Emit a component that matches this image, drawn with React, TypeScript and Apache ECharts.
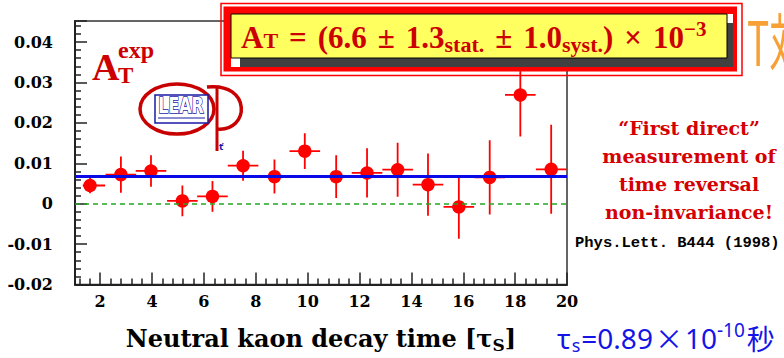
import React, { useEffect, useRef } from "react";
import * as echarts from "echarts";

// ---- data ----
const decayTime = [1.61, 2.8, 3.96, 5.17, 6.33, 7.51, 8.72, 9.89, 11.1, 12.29, 13.47, 14.64, 15.83, 17.02, 18.2, 19.39];
const asymmetry = [0.0045, 0.0072, 0.0081, 0.0007, 0.0018, 0.0094, 0.0067, 0.013, 0.0067, 0.0076, 0.0084, 0.0047, -0.0008, 0.0065, 0.0269, 0.0085];
const asymmetryError = [0.0019, 0.0045, 0.0039, 0.0038, 0.0038, 0.0037, 0.0042, 0.0044, 0.0053, 0.0061, 0.0067, 0.0077, 0.0079, 0.0092, 0.0103, 0.011];
const timeErrorLow = [0.28, 0.59, 0.59, 0.59, 0.59, 0.59, 0.59, 0.59, 0.59, 0.59, 0.59, 0.59, 0.59, 0.59, 0.59, 0.59];
const timeErrorHigh = [0.58, 0.59, 0.59, 0.59, 0.59, 0.59, 0.59, 0.59, 0.59, 0.59, 0.59, 0.59, 0.59, 0.59, 0.59, 0.59];
const fittedAsymmetry = 0.0067;
const zeroLevel = 0;
const xRange = [1.03, 20];
const yRange = [-0.02, 0.0452];

const SERIF = "'DejaVu Serif', serif";
const TIMES = "'Liberation Serif', serif";
const DARKRED = "#cc0000";
const RED = "#ff0000";

export default function App() {
  const ref = useRef<HTMLDivElement>(null);

  useEffect(() => {
    document.body.style.margin = "0";
    if (!ref.current) return;
    const chart = echarts.init(ref.current, undefined, { renderer: "svg" });

    const points = decayTime.map((t, i) => [t, asymmetry[i], asymmetryError[i], timeErrorLow[i], timeErrorHigh[i]]);

    const axisColor = "#222";

    const option: any = {
      animation: false,
      backgroundColor: "#ffffff",
      grid: {
        left: 75,
        right: 217,
        top: 21,
        bottom: 70,
        show: true,
        borderColor: "#333",
        borderWidth: 1.5,
        backgroundColor: "transparent",
      },
      xAxis: {
        type: "value",
        min: xRange[0],
        max: xRange[1],
        splitNumber: 10,
        minInterval: 2,
        maxInterval: 2,
        axisLine: { show: true, onZero: false, lineStyle: { color: axisColor, width: 2 } },
        axisTick: { show: true, inside: true, length: 12, lineStyle: { color: axisColor, width: 1.5 } },
        minorTick: { show: true, splitNumber: 5, length: 6, lineStyle: { color: axisColor, width: 1.5 } },
        splitLine: { show: false },
        axisLabel: {
          showMinLabel: false,
          margin: 9,
          color: "#000",
          fontFamily: SERIF,
          fontWeight: "bold",
          fontSize: 16,
        },
        name: "Neutral kaon decay time [τ{sub|S}]",
        nameLocation: "middle",
        nameGap: 40,
        nameTextStyle: {
          color: "#000",
          fontFamily: SERIF,
          fontWeight: "bold",
          fontSize: 24,
          lineHeight: 28,
          rich: {
            sub: { fontFamily: SERIF, fontWeight: "bold", fontSize: 17, color: "#000", padding: [12, 0, 0, 0], lineHeight: 28 },
          },
        },
      },
      yAxis: {
        type: "value",
        min: yRange[0],
        max: yRange[1],
        interval: 0.01,
        axisLine: { show: true, onZero: false, lineStyle: { color: axisColor, width: 2 } },
        axisTick: { show: true, inside: true, length: 12, lineStyle: { color: axisColor, width: 1.5 } },
        minorTick: { show: true, splitNumber: 5, length: 6, lineStyle: { color: axisColor, width: 1.5 } },
        splitLine: { show: false },
        axisLabel: {
          showMaxLabel: false,
          margin: 22,
          color: "#000",
          fontFamily: SERIF,
          fontWeight: "bold",
          fontSize: 16,
        },
      },
      series: [
        {
          type: "custom",
          z: 3,
          clip: true,
          data: points,
          encode: { x: 0, y: 1 },
          renderItem: (params: any, api: any) => {
            const x = api.value(0);
            const y = api.value(1);
            const e = api.value(2);
            const xl = api.value(3);
            const xh = api.value(4);
            const c = api.coord([x, y]);
            const top = api.coord([x, y + e]);
            const bot = api.coord([x, y - e]);
            const l = api.coord([x - xl, y]);
            const r = api.coord([x + xh, y]);
            const st = { stroke: RED, lineWidth: 1.8 };
            return {
              type: "group",
              children: [
                { type: "line", shape: { x1: c[0], y1: top[1], x2: c[0], y2: bot[1] }, style: st },
                { type: "line", shape: { x1: l[0], y1: c[1], x2: r[0], y2: c[1] }, style: st },
                { type: "circle", shape: { cx: c[0], cy: c[1], r: 6.7 }, style: { fill: RED } },
              ],
            };
          },
        },
        {
          type: "line",
          data: [],
          z: 4,
          markLine: {
            silent: true,
            precision: 6,
            symbol: ["none", "none"],
            label: { show: false },
            data: [
              { yAxis: zeroLevel, lineStyle: { color: "#22a822", type: [5, 4], width: 1.5 } },
              { yAxis: fittedAsymmetry, lineStyle: { color: "#0a0ae6", type: "solid", width: 3 } },
            ],
          },
        },
      ],
      graphic: [
        // A_T^exp label
        { type: "text", x: 92, y: 67, z: 10, style: { text: "A", font: `bold 38px ${TIMES}`, fill: DARKRED, verticalAlign: "middle" } },
        { type: "text", x: 118, y: 50, z: 10, style: { text: "exp", font: `bold 24px ${TIMES}`, fill: DARKRED, verticalAlign: "middle" } },
        { type: "text", x: 118, y: 75, z: 10, style: { text: "T", font: `bold 23px ${TIMES}`, fill: DARKRED, verticalAlign: "middle" } },

        // LEAR / CP logo
        { type: "ellipse", z: 10, shape: { cx: 177, cy: 109, rx: 37, ry: 25 }, style: { fill: "none", stroke: "#c80000", lineWidth: 3.5 } },
        { type: "bezierCurve", z: 10, shape: { x1: 207, y1: 87, cpx1: 252, cpy1: 82, cpx2: 250, cpy2: 132, x2: 217, y2: 129 }, style: { fill: "none", stroke: "#c80000", lineWidth: 3.5 } },
        { type: "line", z: 10, shape: { x1: 217, y1: 88, x2: 217, y2: 151 }, style: { stroke: "#c80000", lineWidth: 3 } },
        { type: "rect", z: 11, shape: { x: 155, y: 95, width: 53, height: 28 }, style: { fill: "#ffffff", stroke: "#1a1aa8", lineWidth: 1.5 } },
        { type: "line", z: 11, shape: { x1: 158, y1: 118, x2: 205, y2: 118 }, style: { stroke: "#1a1aa8", lineWidth: 1.2 } },
        { type: "text", x: 181, y: 106, scaleX: 0.72, z: 12, style: { text: "LEAR", font: `bold 22px 'DejaVu Sans'`, fill: "#ffffff", stroke: "#1a1aa8", lineWidth: 1.6, align: "center", verticalAlign: "middle" } },
        { type: "text", x: 219, y: 147, z: 12, style: { text: "ť", font: `bold 9px 'DejaVu Sans'`, fill: "#1a1aa8", verticalAlign: "middle" } },

        // formula box
        { type: "rect", z: 20, shape: { x: 221, y: 3.5, width: 521, height: 72 }, style: { fill: "none", stroke: RED, lineWidth: 1.5 } },
        { type: "rect", z: 20, shape: { x: 223.5, y: 6.5, width: 513.5, height: 65 }, style: { fill: RED } },
        { type: "rect", z: 21, shape: { x: 231, y: 14, width: 502, height: 53 }, style: { fill: "#ffffff" } },
        { type: "rect", z: 22, shape: { x: 240, y: 23, width: 493, height: 44 }, style: { fill: "#404040" } },
        { type: "rect", z: 23, shape: { x: 231, y: 14, width: 496, height: 44 }, style: { fill: "#ffff60", stroke: "#000", lineWidth: 1 } },
        {
          type: "text",
          x: 241,
          y: 37,
          z: 24,
          style: {
            text: "{a|A}{t|T}{op|=}{a|(6.6}{op|±}{a|1.3}{s|stat.}{op|±}{a|1.0}{s|syst.}{a|)}{op|×}{a|10}{p|−3}",
            verticalAlign: "middle",
            rich: {
              a: { fontFamily: TIMES, fontWeight: "bold", fontSize: 31, fill: DARKRED, lineHeight: 36 },
              op: { fontFamily: TIMES, fontWeight: "bold", fontSize: 31, fill: DARKRED, lineHeight: 36, padding: [0, 11, 0, 11] },
              t: { fontFamily: TIMES, fontWeight: "bold", fontSize: 22, fill: DARKRED, lineHeight: 36, padding: [6, 0, 0, 0] },
              s: { fontFamily: TIMES, fontWeight: "bold", fontSize: 22, fill: DARKRED, lineHeight: 36, padding: [14, 0, 0, 0] },
              p: { fontFamily: TIMES, fontWeight: "bold", fontSize: 21, fill: DARKRED, lineHeight: 36, padding: [0, 0, 16, 0] },
            },
          },
        },

        // orange text at top right (cut by the picture edge)
        { type: "text", x: 747, y: 39, scaleX: 0.6, z: 10, style: { text: "T対称", font: `62px 'Noto Sans CJK JP'`, fill: "#f7a035", verticalAlign: "middle" } },

        // right-hand red comment
        {
          type: "text",
          x: 689,
          y: 170,
          z: 10,
          style: {
            text: "“First direct”\nmeasurement of\ntime reversal\nnon-invariance!",
            font: `bold 19px ${SERIF}`,
            fill: "#d40000",
            align: "center",
            verticalAlign: "middle",
            lineHeight: 28,
          },
        },
        { type: "text", x: 575, y: 243, z: 10, style: { text: "Phys.Lett. B444 (1998)", font: `bold 15.5px 'Liberation Mono'`, fill: "#000", verticalAlign: "middle" } },

        // blue time-unit note
        {
          type: "text",
          x: 557,
          y: 338,
          z: 10,
          style: {
            text: "{m|τ}{s|s}{m|=0.89}{c|×}{m|10}{p|-10}{c|秒}",
            verticalAlign: "middle",
            rich: {
              m: { fontFamily: "'Noto Sans'", fontSize: 28, fill: "#1414e6", lineHeight: 34 },
              c: { fontFamily: "'Noto Sans CJK SC'", fontSize: 28, fill: "#1414e6", lineHeight: 34, padding: [0, 2, 0, 2] },
              s: { fontFamily: "'Noto Sans'", fontSize: 18, fill: "#1414e6", lineHeight: 34, padding: [14, 1, 0, 1] },
              p: { fontFamily: "'Noto Sans'", fontSize: 19, fill: "#1414e6", lineHeight: 34, padding: [0, 0, 16, 0] },
            },
          },
        },
      ],
    };

    chart.setOption(option);
    return () => chart.dispose();
  }, []);

  return <div ref={ref} style={{ width: 784, height: 358, position: "absolute", left: 0, top: 0 }} />;
}
